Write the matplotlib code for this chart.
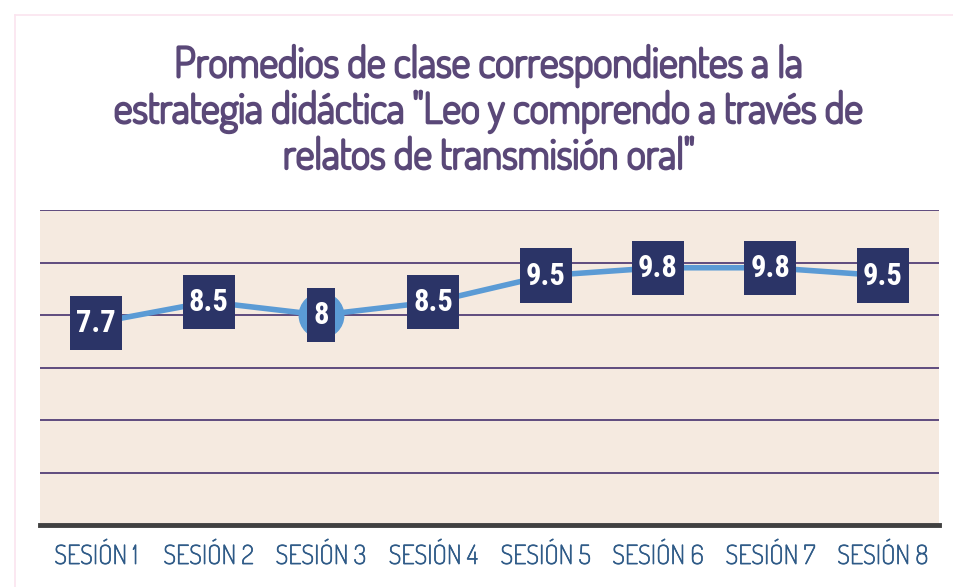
import matplotlib
matplotlib.use("Agg")
import matplotlib.pyplot as plt
from matplotlib.lines import Line2D
from matplotlib.path import Path
import matplotlib.patheffects as pe

categories = ["SESIÓN 1", "SESIÓN 2", "SESIÓN 3", "SESIÓN 4",
              "SESIÓN 5", "SESIÓN 6", "SESIÓN 7", "SESIÓN 8"]
values = [7.7, 8.5, 8, 8.5, 9.5, 9.8, 9.8, 9.5]
labels = ["7.7", "8.5", "8", "8.5", "9.5", "9.8", "9.8", "9.5"]
title = 'Promedios de clase correspondientes a la\nestrategia didáctica "Leo y comprendo a través de\nrelatos de transmisión oral"'

W, H = 954, 587
fig = plt.figure(figsize=(W / 100, H / 100), dpi=100)
fig.patch.set_facecolor("white")

ax = fig.add_axes([40 / W, (H - 525) / H, (939 - 40) / W, (525 - 210) / H])
ax.set_facecolor("#F5EAE0")
ax.set_xlim(-0.5, len(categories) - 0.5)
ax.set_ylim(0, 12)
for y in range(2, 13, 2):
    ax.axhline(y, color="#5E4B7E", lw=1.4, zorder=1)
for s in ["top", "left", "right"]:
    ax.spines[s].set_visible(False)
ax.spines["bottom"].set_color("#404040")
ax.spines["bottom"].set_linewidth(3.5)
ax.spines["bottom"].set_zorder(3)
ax.set_yticks([])
ax.set_xticks(range(len(categories)))
tick_color = "#2E5A87"
ax.set_xticklabels(categories, fontsize=19, color=tick_color,
                   family=["Dosis", "DejaVu Sans"])
for t in ax.get_xticklabels():
    t.set_path_effects([pe.withStroke(linewidth=0.5, foreground=tick_color)])
ax.tick_params(axis="x", length=0, pad=13)

x = list(range(len(values)))
ax.plot(x, values, color="#5B9BD5", lw=4, marker="o", markersize=32,
        markerfacecolor="#5B9BD5", markeredgecolor="#5B9BD5", zorder=4,
        solid_capstyle="round")


def label_box(x0, y0, width, height, mutation_size):
    px = 0.20 * mutation_size
    py = 0.40 * mutation_size
    x0 -= px
    y0 -= py
    x1 = x0 + width + 2 * px
    y1 = y0 + height + 2 * py
    return Path([(x0, y0), (x1, y0), (x1, y1), (x0, y1), (x0, y0)], closed=True)


for xi, v, lab in zip(x, values, labels):
    ax.text(xi, v, lab, ha="center", va="center", fontsize=22,
            fontweight="bold", color="white",
            family=["Roboto Condensed", "Roboto", "DejaVu Sans"],
            zorder=6,
            bbox=dict(boxstyle=label_box, facecolor="#2B3467",
                      edgecolor="none"))

title_color = "#5A4878"
fig.text(489 / W, 1 - 112 / H, title, ha="center", va="center",
         fontsize=30, color=title_color,
         family=["Dosis", "DejaVu Sans"], linespacing=1.12,
         path_effects=[pe.withStroke(linewidth=1.9, foreground=title_color)])

fig.add_artist(Line2D([15 / W, 1], [1 - 15 / H, 1 - 15 / H], color="#FBE4EF", lw=1.2))
fig.add_artist(Line2D([15 / W, 15 / W], [0, 1 - 15 / H], color="#FBE4EF", lw=1.2))

fig.savefig("out.png", dpi=100)
